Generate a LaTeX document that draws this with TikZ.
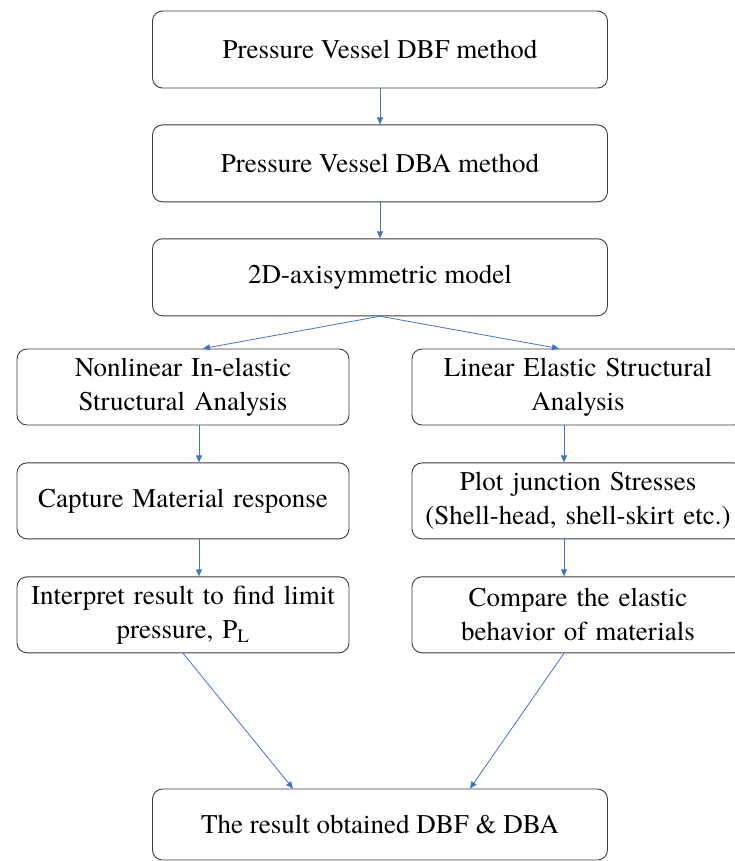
\documentclass[tikz,border=0pt]{standalone}
\usepackage{fontspec}
\setmainfont{texgyretermes}[Extension=.otf, UprightFont=*-regular, BoldFont=*-bold]
\usetikzlibrary{positioning,arrows.meta}
\definecolor{arrowblue}{RGB}{68,114,196}
\definecolor{boxline}{RGB}{60,60,60}

\begin{document}
\begin{tikzpicture}[x=1pt, y=-1pt,
	box/.style={draw=boxline, line width=0.9pt, rounded corners=10pt, align=center, inner sep=0pt, font=\fontsize{27}{34}\selectfont},
	wide/.style={box, minimum width=455pt, minimum height=77pt},
	half/.style={box, minimum width=332pt, minimum height=76pt, text width=322pt},
	flow/.style={draw=arrowblue, line width=0.8pt, -{Triangle[length=7pt, width=6pt]}}]
	\useasboundingbox (0,0) rectangle (734,861);
	
	\node[wide] (dbf) at (380,49.5) {Pressure Vessel DBF method};
	\node[wide, below=36pt of dbf] (dba) {Pressure Vessel DBA method};
	\node[wide, below=36pt of dba] (axi) {2D-axisymmetric model};
	
	\node[half] (nl) at (183,387) {Nonlinear In-elastic\\Structural Analysis};
	\node[half, below=37pt of nl] (cap) {Capture Material response};
	\node[half, below=37pt of cap] (ip) {Interpret result to find limit\\pressure, P\textsubscript{L}};
	
	\node[half] (le) at (578,387) {Linear Elastic Structural\\Analysis};
	\node[half, below=37pt of le] (pj) {Plot junction Stresses\\(Shell-head, shell-skirt etc.)};
	\node[half, below=37pt of pj] (cmp) {Compare the elastic\\behavior of materials};
	
	\node[wide, minimum height=71pt] (res) at (380,824.5) {The result obtained DBF \& DBA};
	
	\draw[flow] (dbf) -- (dba);
	\draw[flow] (dba) -- (axi);
	\draw[flow] (axi.south) -- ([xshift=20pt]nl.north);
	\draw[flow] (axi.south) -- ([xshift=-19pt]le.north);
	
	\draw[flow] ([xshift=16pt]nl.south) -- ([xshift=16pt]cap.north);
	\draw[flow] ([xshift=16pt]cap.south) -- ([xshift=16pt]ip.north);
	\draw[flow] ([xshift=-14pt]le.south) -- ([xshift=-14pt]pj.north);
	\draw[flow] ([xshift=-14pt]pj.south) -- ([xshift=-14pt]cmp.north);
	
	\draw[flow] (ip.south) -- ([xshift=-87pt]res.north);
	\draw[flow] ([xshift=-14pt]cmp.south) -- ([xshift=90pt]res.north);
\end{tikzpicture}
\end{document}
